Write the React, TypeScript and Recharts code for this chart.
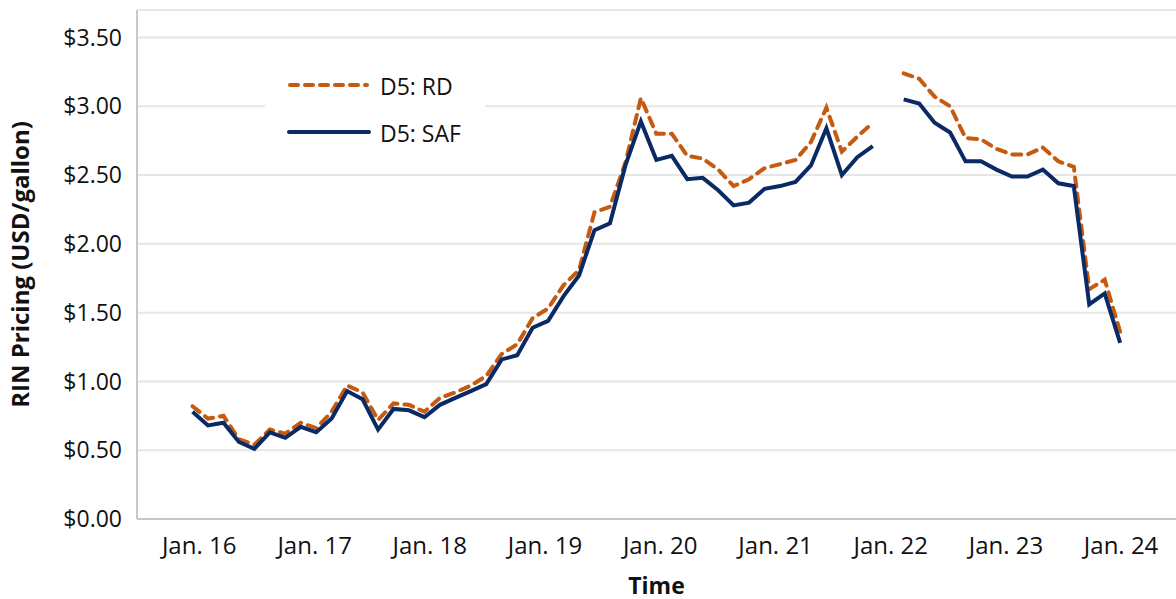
import React from 'react';
import { LineChart, Line, XAxis, YAxis, CartesianGrid, Legend } from 'recharts';

const DAY_MS = 86400000;
const FIRST_PERIOD = Date.UTC(2015, 11, 11);
const PERIOD_DAYS = 49;

const rdPrices = [
  0.82, 0.73, 0.75, 0.58, 0.54, 0.65, 0.62, 0.70, 0.66, 0.78,
  0.97, 0.92, 0.72, 0.84, 0.83, 0.78, 0.88, 0.92, 0.97, 1.04,
  1.20, 1.27, 1.46, 1.53, 1.70, 1.81, 2.23, 2.27, 2.59, 3.06,
  2.80, 2.80, 2.64, 2.62, 2.54, 2.42, 2.47, 2.55, 2.58, 2.61,
  2.74, 2.99, 2.67, 2.78, 2.88, null, 3.24, 3.20, 3.07, 3.00,
  2.77, 2.76, 2.69, 2.65, 2.65, 2.70, 2.60, 2.56, 1.67, 1.74,
  1.36,
];

const safPrices = [
  0.78, 0.68, 0.70, 0.56, 0.51, 0.63, 0.59, 0.67, 0.63, 0.73,
  0.93, 0.87, 0.65, 0.80, 0.79, 0.74, 0.83, 0.88, 0.93, 0.98,
  1.16, 1.19, 1.39, 1.44, 1.62, 1.77, 2.10, 2.15, 2.57, 2.89,
  2.61, 2.64, 2.47, 2.48, 2.39, 2.28, 2.30, 2.40, 2.42, 2.45,
  2.57, 2.84, 2.50, 2.63, 2.71, null, 3.05, 3.02, 2.88, 2.81,
  2.60, 2.60, 2.54, 2.49, 2.49, 2.54, 2.44, 2.42, 1.56, 1.64,
  1.28,
];

const yTicks = [0, 0.5, 1, 1.5, 2, 2.5, 3, 3.5];
const xTickYears = [2016, 2017, 2018, 2019, 2020, 2021, 2022, 2023, 2024];
const xTicks = xTickYears.map((y) => Date.UTC(y, 0, 1));

const seriesNames = { rd: 'D5: RD', saf: 'D5: SAF' };

const data = rdPrices.map((v, i) => ({
  t: FIRST_PERIOD + i * PERIOD_DAYS * DAY_MS,
  rd: v,
  saf: safPrices[i],
}));

const ORANGE = '#C55A11';
const NAVY = '#0A2A66';
const FONT = '"Open Sans", sans-serif';

const LegendBox = () => (
  <div style={{ background: '#fff', width: 220, height: 84, position: 'relative', fontFamily: FONT }}>
    <svg width={220} height={84} style={{ position: 'absolute', left: 0, top: 0 }}>
      <line x1={25} y1={17} x2={102} y2={17} stroke={ORANGE} strokeWidth={4} strokeDasharray="8 7" strokeLinecap="round" />
      <line x1={24} y1={64} x2={104} y2={64} stroke={NAVY} strokeWidth={4} strokeLinecap="round" />
      <text x={115} y={18} dominantBaseline="central" fontSize={23} fill="#111">{seriesNames.rd}</text>
      <text x={115} y={65} dominantBaseline="central" fontSize={23} fill="#111">{seriesNames.saf}</text>
    </svg>
  </div>
);

export default function App() {
  return (
    <div style={{ position: 'fixed', left: 0, top: 0, background: '#fff' }}>
      <LineChart
        width={1176}
        height={599}
        data={data}
        margin={{ top: 10, right: 0, bottom: 0, left: 0 }}
        style={{ fontFamily: FONT }}
      >
        <CartesianGrid vertical={false} stroke="#E6E6E6" strokeWidth={2} />
        <XAxis
          dataKey="t"
          type="number"
          domain={[Date.UTC(2015, 5, 18), Date.UTC(2024, 5, 23)]}
          ticks={xTicks}
          tickFormatter={(v: number) => `Jan. ${String(new Date(v).getUTCFullYear()).slice(2)}`}
          tickLine={false}
          axisLine={{ stroke: '#C8C8C8', strokeWidth: 2 }}
          tick={{ fill: '#111', fontSize: 24 }}
          tickMargin={12}
          height={80}
          label={{ value: 'Time', position: 'insideBottom', offset: 5, fill: '#111', fontSize: 23, fontWeight: 'bold' }}
        />
        <YAxis
          type="number"
          domain={[0, 3.7]}
          ticks={yTicks}
          tickFormatter={(v: number) => `$${v.toFixed(2)}`}
          tickLine={false}
          axisLine={{ stroke: '#C8C8C8', strokeWidth: 2 }}
          tick={{ fill: '#111', fontSize: 23 }}
          tickMargin={9}
          width={137}
          label={{
            value: 'RIN Pricing (USD/gallon)',
            angle: -90,
            position: 'insideLeft',
            offset: 20,
            fill: '#111',
            fontSize: 24,
            fontWeight: 'bold',
            style: { textAnchor: 'middle' },
          }}
        />
        <Legend
          layout="vertical"
          align="center"
          verticalAlign="middle"
          content={() => <LegendBox />}
          wrapperStyle={{ position: 'absolute', left: 265, top: 68, width: 220, height: 84 }}
        />
        <Line
          type="linear"
          dataKey="rd"
          name={seriesNames.rd}
          stroke={ORANGE}
          strokeWidth={4}
          strokeDasharray="9 7"
          strokeLinecap="round"
          dot={false}
          isAnimationActive={false}
        />
        <Line
          type="linear"
          dataKey="saf"
          name={seriesNames.saf}
          stroke={NAVY}
          strokeWidth={4}
          dot={false}
          isAnimationActive={false}
        />
      </LineChart>
    </div>
  );
}
